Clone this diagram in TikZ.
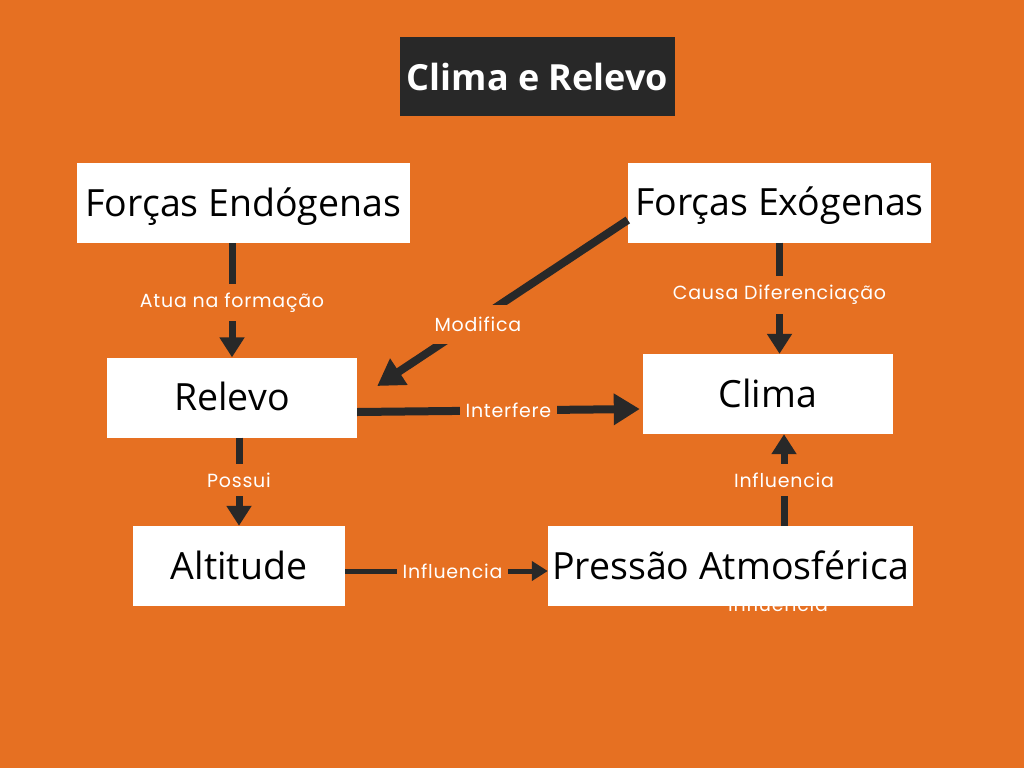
\documentclass[tikz,border=0pt]{standalone}
\usepackage{fontspec}
\setmainfont{Open Sans}
\newfontfamily\rotulofont{Poppins}[LetterSpace=4]
\usetikzlibrary{arrows.meta}
\definecolor{fundo}{HTML}{E67022}
\definecolor{escuro}{HTML}{282828}
\tikzset{
  caixa/.style={fill=white, inner sep=0pt, minimum height=80pt, font=\fontsize{37.5}{42}\selectfont},
  seta/.style={draw=escuro, line width=7pt, -{Triangle[width=24pt,length=20pt]}},
  rotulo/.style={fill=fundo, text=white, inner xsep=6pt, inner ysep=9pt, font=\rotulofont\fontsize{19}{22}\selectfont},
}
\begin{document}
\begin{tikzpicture}[x=1pt,y=-1pt]
\fill[fundo] (0,0) rectangle (1024,768);
\useasboundingbox (0,0) rectangle (1024,768);
\node[text=white, font=\rotulofont\fontsize{19}{22}\selectfont, anchor=base] (escondido) at (778,611) {Influencia};
\node[fill=escuro, text=white, minimum width=275pt, minimum height=79pt, font=\bfseries\fontsize{36}{40}\selectfont] (titulo) at (537.5,76.5) {Clima e Relevo};
\node[caixa, minimum width=333pt, text depth=2pt] (endo) at (243.5,203) {Forças Endógenas};
\node[caixa, minimum width=303pt, text depth=2pt] (exo) at (779.5,202.5) {Forças Exógenas};
\node[caixa, minimum width=250pt, text depth=2pt] (relevo) at (232,397.5) {Relevo};
\node[caixa, minimum width=250pt, text depth=2pt] (clima) at (768,394) {Clima};
\node[caixa, minimum width=212pt, text depth=2pt] (altitude) at (239,566) {Altitude};
\node[caixa, minimum width=365pt, text depth=2pt] (pressao) at (730.5,566) {Pressão Atmosférica};
\coordinate (sobe) at ([xshift=16]clima.south);
\draw[seta] (endo.south -| relevo.north) -- node[rotulo, pos=0.52] {Atua na formação} (relevo.north);
\draw[seta] (exo.south) -- node[rotulo, pos=0.47] {Causa Diferenciação} (exo.south |- clima.north);
\draw[seta, line width=8pt, -{Triangle[width=30pt,length=26pt]}] ([yshift=-17.5]exo.west) -- node[rotulo, pos=0.63, xshift=8pt, inner ysep=12pt] {Modifica} ([xshift=20,yshift=11.5]relevo.east);
\draw[seta, line width=8pt, -{Triangle[width=30pt,length=26pt]}] ([yshift=-14.5]relevo.east) -- node[rotulo, pos=0.535] {Interfere} ([xshift=-3,yshift=-15]clima.west);
\draw[seta] (altitude.north |- relevo.south) -- node[rotulo, pos=0.48] {Possui} (altitude.north);
\draw[seta, line width=5pt, -{Triangle[width=19pt,length=16pt]}] ([yshift=-5]altitude.east) -- node[rotulo, pos=0.53] {Influencia} ([yshift=-5]pressao.west);
\draw[seta] (sobe |- pressao.north) -- node[rotulo, pos=0.5] {Influencia} (sobe);
\end{tikzpicture}
\end{document}
